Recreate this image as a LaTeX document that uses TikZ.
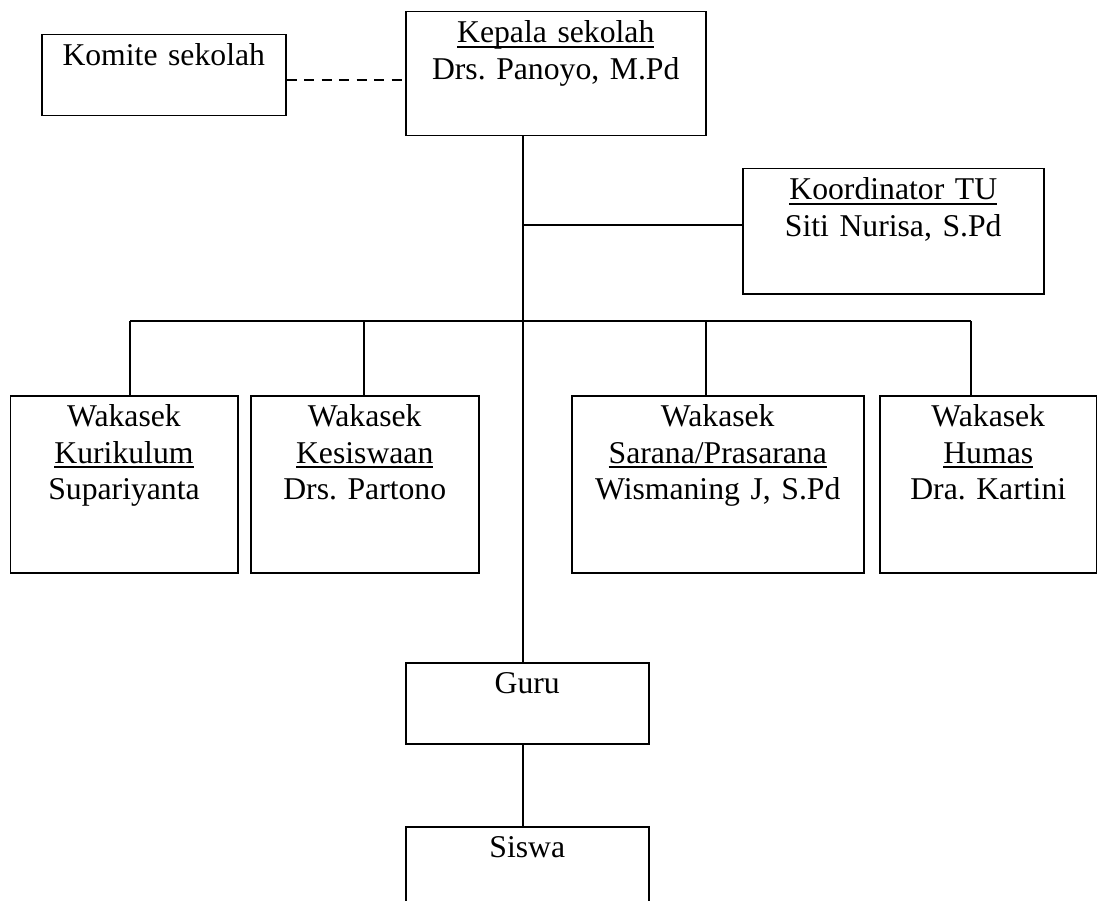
\documentclass[tikz,border=0pt]{standalone}
\usepackage{fontspec}
\setmainfont{Liberation Serif}
\usetikzlibrary{positioning}
\newsavebox{\undrbox}
\newcommand{\undr}[1]{\leavevmode\sbox\undrbox{#1}\rlap{\rule[-5pt]{\wd\undrbox}{1.8pt}}\usebox\undrbox}
\tikzset{
  unit/.style 2 args = {rectangle, draw=black, line width=1.5pt, inner sep=0pt,
                        anchor=north west, align=center, text width=#1,
                        text height=31pt, text depth=#2,
                        font={\fontsize{31.7pt}{36.5pt}\selectfont\frenchspacing}},
  ln/.style     = {draw=black, line width=1.5pt},
  dashln/.style = {ln, dash pattern=on 10pt off 7.5pt},
}

\begin{document}
\begin{tikzpicture}[x=1pt, y=-1pt]
  \useasboundingbox (0,0) rectangle (1097,901);

  \node[unit={300pt}{93pt}] (kepala) at (405,11) {\undr{Kepala sekolah}\\Drs. Panoyo, M.Pd};
  \node[unit={244pt}{50pt}] (komite) at (41,34) {Komite sekolah};
  \node[unit={301pt}{94pt}] (tu) at (742,168) {\undr{Koordinator TU}\\Siti Nurisa, S.Pd};
  \node[unit={227.5pt}{146pt}] (wk1) at (9.5,395) {Wakasek\\\undr{Kurikulum}\\Supariyanta};
  \node[unit={228pt}{146pt}] (wk2) at (250,395) {Wakasek\\\undr{Kesiswaan}\\Drs. Partono};
  \node[unit={292pt}{146pt}] (wk3) at (571,395) {Wakasek\\\undr{Sarana/Prasarana}\\Wismaning J, S.Pd};
  \node[unit={217pt}{146pt}] (wk4) at (879,395) {Wakasek\\\undr{Humas}\\Dra. Kartini};
  \node[unit={243pt}{50pt}] (guru) at (405,662) {Guru};
  \node[unit={243pt}{50pt}] (siswa) at (405,826) {Siswa};

  \coordinate (trunk) at (523,0);
  \coordinate (dsh) at (0,80);
  \coordinate (tuj) at (523,225);
  \foreach \x [count=\i] in {130,364,706,971}
    \coordinate (b\i) at (\x,321);

  \draw[dashln] (komite.east |- dsh) -- (kepala.west |- dsh);
  \draw[ln] (kepala.south -| trunk) -- (guru.north -| trunk);
  \draw[ln] (tuj) -- (tuj -| tu.west);
  \draw[ln] (b1) -- (b4);
  \foreach \i in {1,...,4}
    \draw[ln] (b\i) -- (b\i |- wk\i.north);
  \draw[ln] (guru.south -| trunk) -- (siswa.north -| trunk);
\end{tikzpicture}
\end{document}
